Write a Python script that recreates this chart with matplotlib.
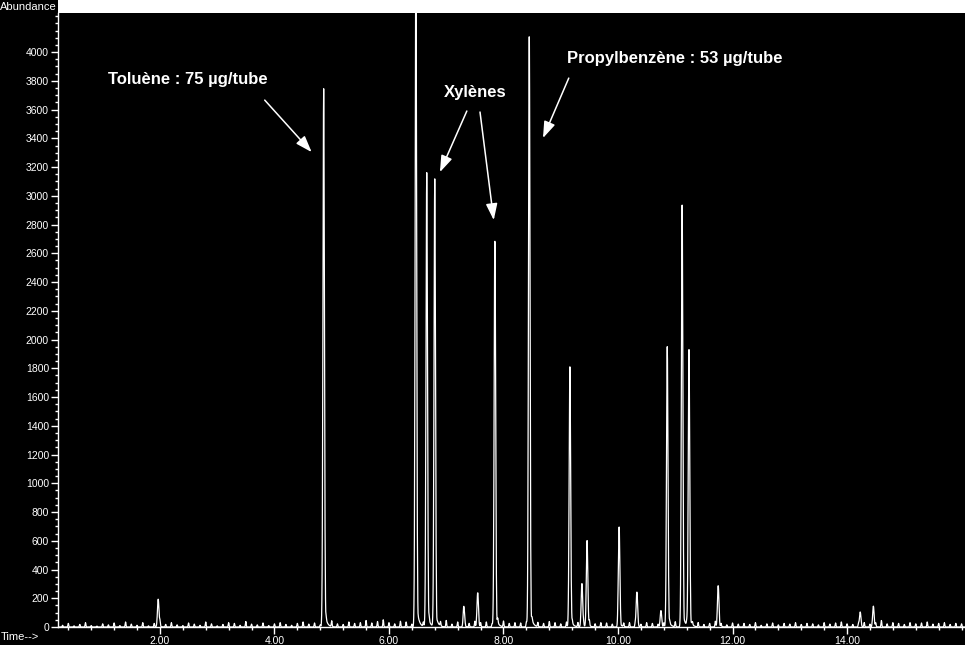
import numpy as np
import matplotlib
matplotlib.use("Agg")
import matplotlib.pyplot as plt
from matplotlib.patches import Rectangle
from matplotlib.ticker import MultipleLocator

# ---- data ----
peak_times = [1.97, 4.86, 6.47, 6.66, 6.80, 7.31, 7.55, 7.85, 8.45, 9.16,
              9.37, 9.46, 10.02, 10.33, 10.75, 10.86, 11.12, 11.24, 11.75,
              14.23, 14.46]
peak_heights = [195, 3745, 4700, 3160, 3090, 130, 240, 2715, 4155, 1810,
                305, 600, 695, 245, 115, 1950, 2935, 1925, 290,
                105, 145]

noise_start = 0.3
noise_step = 0.1
noise_heights = [12, 25, 8, 18, 30, 10, 6, 22, 15, 28,
                 10, 35, 20, 12, 30, 8, 25, 40, 18, 30,
                 15, 10, 28, 20, 12, 35, 22, 8, 18, 30,
                 25, 12, 38, 20, 15, 28, 10, 22, 30, 18,
                 12, 25, 35, 20, 28, 15, 30, 40, 22, 18,
                 35, 25, 30, 45, 28, 38, 50, 30, 22, 40,
                 35, 20, 28, 30, 40, 25, 30, 45, 20, 35,
                 30, 25, 40, 28, 35, 22, 30, 40, 25, 30,
                 28, 35, 20, 30, 25, 38, 30, 22, 35, 28,
                 30, 25, 40, 22, 30, 28, 20, 35, 25, 30,
                 22, 18, 30, 25, 20, 28, 22, 35, 15, 25,
                 20, 30, 18, 25, 40, 22, 15, 28, 20, 25,
                 18, 30, 12, 22, 28, 15, 25, 20, 30, 18,
                 25, 22, 15, 30, 20, 28, 35, 22, 18, 25,
                 30, 20, 28, 45, 22, 30, 25, 18, 30, 22,
                 28, 35, 20, 25, 30, 18, 25, 22]

y_ticks = list(range(0, 4001, 200))
x_ticks = [2, 4, 6, 8, 10, 12, 14]
x_tick_labels = ["2.00", "4.00", "6.00", "8.00", "10.00", "12.00", "14.00"]

annot_text = ["Toluène : 75 µg/tube", "Xylènes", "Propylbenzène : 53 µg/tube"]

# ---- build trace from peak table ----
t = np.arange(0.0, 16.2, 0.004)
trace = np.zeros_like(t)


def add_peak(tc, h, sig, tau, floor):
    g = np.exp(-0.5 * ((t - tc) / sig) ** 2)
    tail = np.where(t > tc, np.exp(-(t - tc) / tau), 0.0)
    return h * np.maximum(g, floor * tail)


for tc, h in zip(peak_times, peak_heights):
    trace += add_peak(tc, h, 0.013, 0.035, 0.05)
noise_times = noise_start + noise_step * np.arange(len(noise_heights))
for tc, h in zip(noise_times, noise_heights):
    trace += add_peak(tc, h, 0.007, 0.01, 0.0)

# ---- figure ----
W, H = 965, 645
fig = plt.figure(figsize=(W / 100, H / 100), dpi=100, facecolor="black")
plt.rcParams["font.family"] = ["Liberation Sans", "DejaVu Sans"]

# white strip at the top above the plot
fig.patches.append(Rectangle((58 / W, (H - 13) / H), 1 - 58 / W, 13 / H,
                             transform=fig.transFigure, facecolor="white",
                             edgecolor="none", zorder=0))

ax = fig.add_axes([58 / W, 18 / H, (W - 58) / W, (627 - 13) / H])
ax.set_facecolor("black")
ax.plot(t, trace, color="white", lw=0.9)

ax.set_xlim(0.22, 16.06)
ax.set_ylim(0, 4272)

for s in ["top", "right"]:
    ax.spines[s].set_visible(False)
for s in ["left", "bottom"]:
    ax.spines[s].set_color("white")
    ax.spines[s].set_linewidth(1.0)

ax.set_yticks(y_ticks)
ax.set_yticklabels([str(v) for v in y_ticks])
ax.yaxis.set_minor_locator(MultipleLocator(50))
ax.set_xticks(x_ticks)
ax.set_xticklabels(x_tick_labels)
ax.xaxis.set_minor_locator(MultipleLocator(0.4))

ax.tick_params(axis="both", which="major", colors="white", labelsize=7.5,
               length=5, width=1, pad=1.5)
ax.tick_params(axis="both", which="minor", colors="white", length=2.5, width=1)

# axis titles
fig.text(57 / W, (H - 7) / H, "Abundance", color="white", fontsize=8,
         ha="right", va="center")
fig.text(1 / W, (H - 637) / H, "Time-->", color="white", fontsize=8,
         ha="left", va="center")

arrow = dict(arrowstyle="-|>,head_length=1.0,head_width=0.35", color="white",
             lw=1.1, shrinkA=0, shrinkB=0)
tkw = dict(color="white", fontsize=12, fontweight="bold")

ax.text(1.09, 3812, annot_text[0], ha="left", va="center", **tkw)
ax.annotate("", xy=(4.65, 3304), xytext=(3.83, 3666), arrowprops=arrow)

ax.text(7.50, 3722, annot_text[1], ha="center", va="center", **tkw)
ax.annotate("", xy=(6.89, 3165), xytext=(7.36, 3590), arrowprops=arrow)
ax.annotate("", xy=(7.83, 2831), xytext=(7.59, 3583), arrowprops=arrow)

ax.text(9.11, 3958, annot_text[2], ha="left", va="center", **tkw)
ax.annotate("", xy=(8.69, 3402), xytext=(9.14, 3819), arrowprops=arrow)

fig.savefig("out.png", dpi=100, facecolor="black")
